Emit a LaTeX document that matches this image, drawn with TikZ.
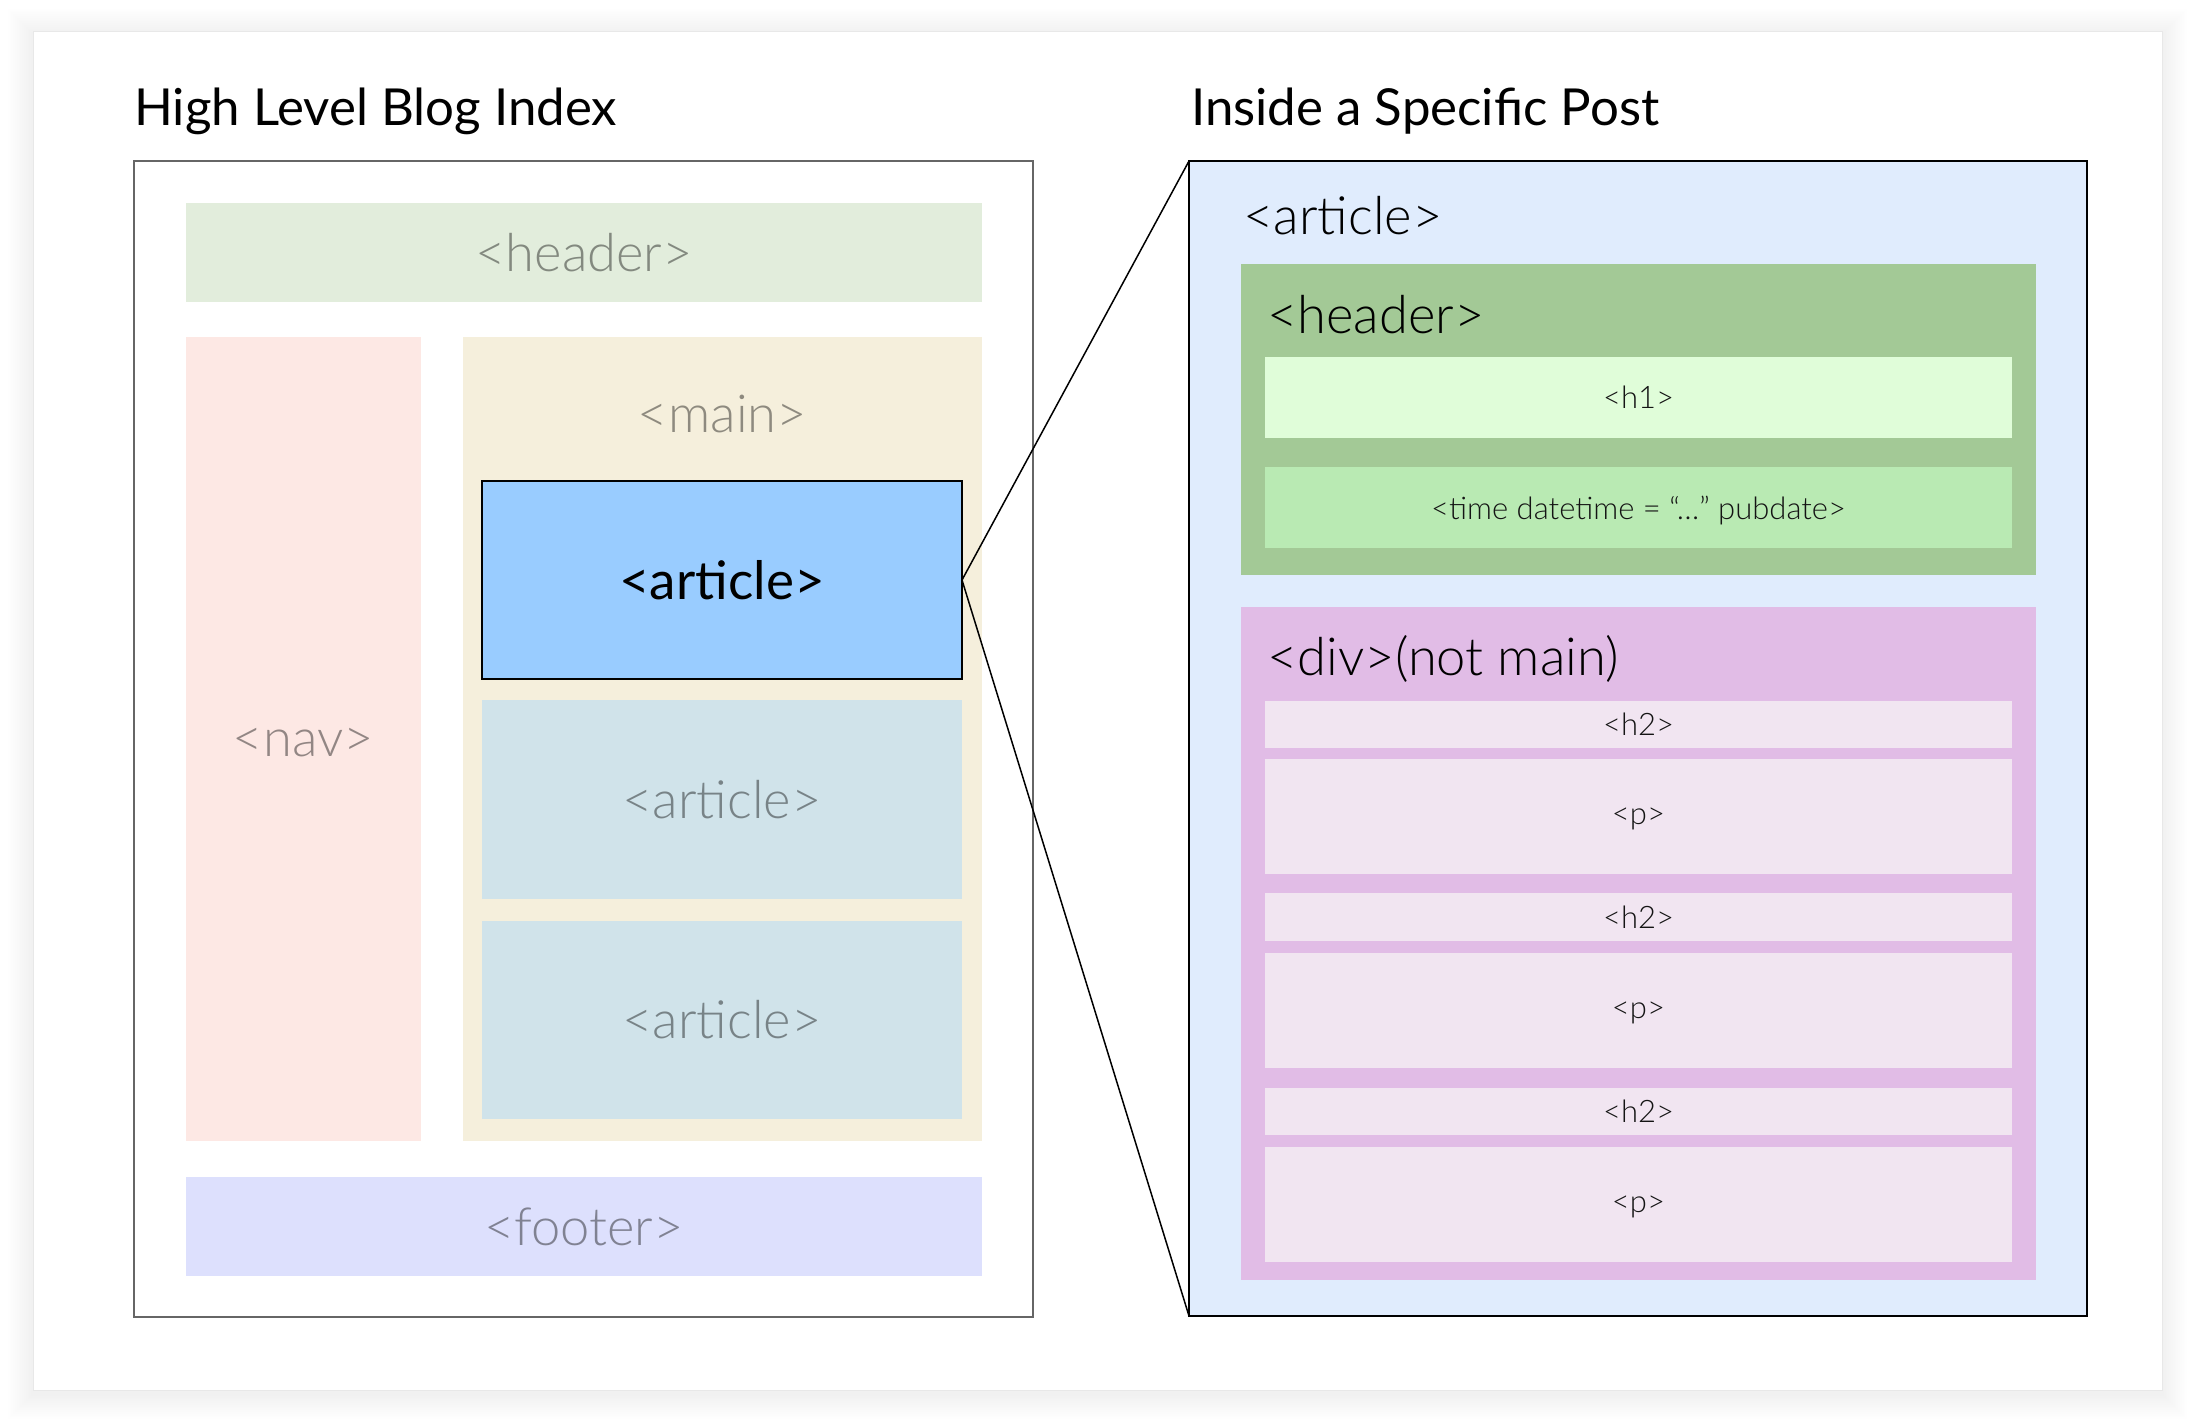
\documentclass[tikz,border=0pt]{standalone}
\usepackage{fontspec}
\setmainfont{Lato}
\newfontfamily\latolight{Lato Light}
\usepackage{tikz}
\definecolor{hdrgreen}{HTML}{E2EDDC}
\definecolor{navpink}{HTML}{FDE8E4}
\definecolor{mainbeige}{HTML}{F5EFDC}
\definecolor{artblue}{HTML}{99CCFF}
\definecolor{artgray}{HTML}{D0E3EA}
\definecolor{footlav}{HTML}{DDE0FD}
\definecolor{postblue}{HTML}{E0ECFD}
\definecolor{phdrgreen}{HTML}{A3C996}
\definecolor{honegreen}{HTML}{E0FDD9}
\definecolor{timegreen}{HTML}{B9EAB3}
\definecolor{divpink}{HTML}{E1BCE6}
\definecolor{secpink}{HTML}{F1E5F1}
\newcommand{\fsz}[1]{\fontsize{#1}{#1}\selectfont}

\begin{document}
\begin{tikzpicture}[x=1pt,y=-1pt,
  block/.style={rectangle, inner sep=0pt, outer sep=0pt},
  area/.style={block, font=\latolight\fsz{52.5}, text=black, text opacity=0.42},
  tag/.style={block, font=\latolight\fsz{31}, text=black!92, text depth=0pt},
  lbl/.style={inner sep=0pt, anchor=base west, font=\latolight\fsz{52.5}},
  title/.style={inner sep=0pt, anchor=base west, font=\fsz{51}}]
  \useasboundingbox (0,0) rectangle (2194,1424);

  % card with a soft shadow
  \foreach \d in {1,...,14}
    \fill[black, opacity=0.005] (33-\d*1.8,34-\d*1.8) rectangle (2162+\d*1.8,1394+\d*1.8);
  \node[block, draw=black!9, fill=white, minimum width=2129, minimum height=1359] (card) at (1097.5,710.5) {};

  % left: blog index
  \node[title] (indextitle) at (134,125) {High Level Blog Index};
  \node[block, draw=black!60, line width=1.5, fill=white, minimum width=899, minimum height=1156] (index) at (583.5,739) {};

  \node[area, fill=hdrgreen, minimum width=796, minimum height=99] (hdr) at (584,252.5) {<header>};
  \node[area, fill=navpink, minimum width=235, minimum height=804] (nav) at (303.5,739) {};
  \node[area, inner sep=0pt, anchor=base] (navtag) at (303.5,756) {<nav>};
  \node[area, fill=mainbeige, minimum width=519, minimum height=804] (main) at (722.5,739) {};
  \node[area, inner sep=0pt, anchor=base] (maintag) at (722.5,432) {<main>};

  \node[area, fill=artblue, draw=black, line width=1.5, text opacity=1, font=\fsz{53}, minimum width=480, minimum height=198] (art1) at (722,580) {<article>};
  \node[area, fill=artgray, minimum width=480, minimum height=199] (art2) at (722,799.5) {<article>};
  \node[area, fill=artgray, minimum width=480, minimum height=198] (art3) at (722,1020) {<article>};

  \node[area, fill=footlav, minimum width=796, minimum height=99] (foot) at (584,1226.5) {<footer>};

  % right: one post
  \node[title] (posttitle) at (1191,125) {Inside a Specific Post};
  \node[block, draw=black, line width=1.8, fill=postblue, minimum width=898, minimum height=1155] (post) at (1638,738.5) {};
  \node[lbl] (posttag) at (1243,234) {<article>};

  \node[block, fill=phdrgreen, minimum width=795, minimum height=311] (phdr) at (1638.5,419.5) {};
  \node[lbl] (phdrtag) at (1267,333) {<header>};
  \node[tag, fill=honegreen, minimum width=747, minimum height=81] (h1) at (1638.5,397.5) {<h1>};
  \node[tag, fill=timegreen, minimum width=747, minimum height=81] (time) at (1638.5,507.5) {<time datetime = “…” pubdate>};

  \node[block, fill=divpink, minimum width=795, minimum height=673] (div) at (1638.5,943.5) {};
  \node[lbl] (divtag) at (1267,675) {<div>(not main)};
  \node[tag, fill=secpink, minimum width=747, minimum height=47] (h2a) at (1638.5,724.5) {<h2>};
  \node[tag, fill=secpink, minimum width=747, minimum height=115] (pa) at (1638.5,816.5) {<p>};
  \node[tag, fill=secpink, minimum width=747, minimum height=48] (h2b) at (1638.5,917) {<h2>};
  \node[tag, fill=secpink, minimum width=747, minimum height=115] (pb) at (1638.5,1010) {<p>};
  \node[tag, fill=secpink, minimum width=747, minimum height=47] (h2c) at (1638.5,1111.5) {<h2>};
  \node[tag, fill=secpink, minimum width=747, minimum height=115] (pc) at (1638.5,1204.5) {<p>};

  % zoom lines
  \draw[line width=1.5] (art1.east) -- (post.north west);
  \draw[line width=1.5] (art1.east) -- (post.south west);
\end{tikzpicture}
\end{document}
